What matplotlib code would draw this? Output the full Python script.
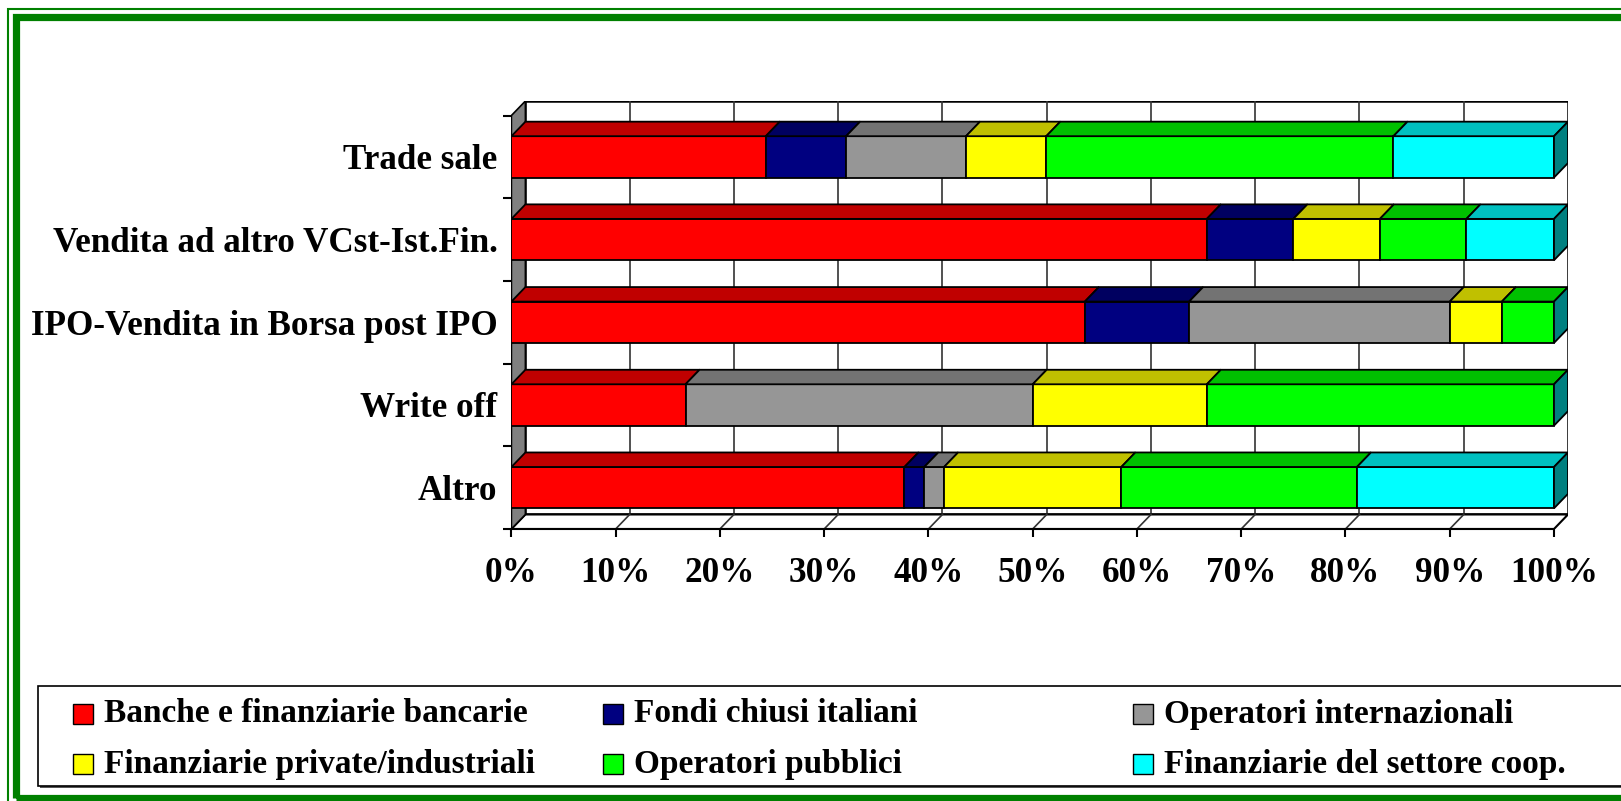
import numpy as np
import matplotlib
matplotlib.use("Agg")
import matplotlib.pyplot as plt
from matplotlib.patches import Rectangle, Polygon

plt.rcParams['font.family'] = ['Liberation Serif', 'DejaVu Serif']
plt.rcParams['font.weight'] = 'bold'

# categories, bottom to top
categories = ['Altro', 'Write off', 'IPO-Vendita in Borsa post IPO',
              'Vendita ad altro VCst-Ist.Fin.', 'Trade sale']
series = ['Banche e finanziarie bancarie', 'Fondi chiusi italiani',
          'Operatori internazionali', 'Finanziarie private/industriali',
          'Operatori pubblici', 'Finanziarie del settore coop.']

# percentage shares (rows follow categories)
banche = [37.7, 16.7, 55.0, 66.7, 24.4]
fondi = [1.9, 0.0, 10.0, 8.3, 7.7]
internaz = [1.9, 33.3, 25.0, 0.0, 11.5]
private = [17.0, 16.7, 5.0, 8.3, 7.7]
pubblici = [22.6, 33.3, 5.0, 8.3, 33.3]
coop = [18.9, 0.0, 0.0, 8.4, 15.4]
xtick_labels = ['0%', '10%', '20%', '30%', '40%', '50%', '60%', '70%', '80%', '90%', '100%']

values = np.array([banche, fondi, internaz, private, pubblici, coop])
front_cols = ['#FF0000', '#000080', '#969696', '#FFFF00', '#00FF00', '#00FFFF']
top_cols = ['#C00000', '#000060', '#737373', '#C0C000', '#00C000', '#00C0C0']
side_col = '#008080'

W, H = 1621, 801
fig = plt.figure(figsize=(W / 100, H / 100), dpi=100)

def fx(px):
    return px / W

def fy(py):
    return 1 - py / H

# plot area in pixels: front 0% at 511, back top 101, front floor 529
ax = fig.add_axes([fx(511.4), fy(529), fx(1568) - fx(511.4), fy(101) - fy(529)])
DX = 14 / 10.42     # depth in % units
DY = 14.5 / 82.6    # depth in category units
ax.set_xlim(0, 100 + DX)
ax.set_ylim(-0.5, 4.5 + DY)
for s in ax.spines.values():
    s.set_visible(False)
ax.patch.set_alpha(0)

y0, y1 = -0.5, 4.5
# back wall
ax.add_patch(Rectangle((DX, y0 + DY), 100, y1 - y0, facecolor='white',
                       edgecolor='black', lw=1.8, zorder=1))
for t in range(10, 100, 10):
    ax.plot([t + DX, t + DX], [y0 + DY, y1 + DY], color='#333333', lw=1.2, zorder=1.5)
# floor
ax.add_patch(Polygon([(0, y0), (100, y0), (100 + DX, y0 + DY), (DX, y0 + DY)],
                     closed=True, facecolor='white', edgecolor='black', lw=1.5, zorder=2))
for t in range(10, 100, 10):
    ax.plot([t, t + DX], [y0, y0 + DY], color='#333333', lw=1.2, zorder=2.5)
# left side wall
ax.add_patch(Polygon([(0, y0), (DX, y0 + DY), (DX, y1 + DY), (0, y1)],
                     closed=True, facecolor='#808080', edgecolor='black', lw=1.2, zorder=2))

bh = 0.5
for i in range(len(categories)):
    left = 0
    for j in range(len(series)):
        v = values[j, i]
        if v <= 0:
            continue
        ax.add_patch(Rectangle((left, i - bh / 2), v, bh, facecolor=front_cols[j],
                               edgecolor='black', lw=1.3, zorder=3))
        ax.add_patch(Polygon([(left, i + bh / 2), (left + v, i + bh / 2),
                              (left + v + DX, i + bh / 2 + DY), (left + DX, i + bh / 2 + DY)],
                             closed=True, facecolor=top_cols[j], edgecolor='black', lw=1.3, zorder=3))
        left += v
    ax.add_patch(Polygon([(left, i - bh / 2), (left + DX, i - bh / 2 + DY),
                          (left + DX, i + bh / 2 + DY), (left, i + bh / 2)],
                         closed=True, facecolor=side_col, edgecolor='black', lw=1.3, zorder=3))

# axes ticks and labels
ax.set_xticks(range(0, 101, 10))
ax.set_xticklabels(xtick_labels)
ax.tick_params(axis='x', length=6, width=1.5, pad=14, labelsize=25.3)
ax.spines['bottom'].set_visible(True)
ax.spines['bottom'].set_bounds(0, 100)
ax.spines['bottom'].set_linewidth(1.5)

ax.set_yticks(range(len(categories)))
ax.set_yticklabels(categories)
ax.set_yticks(np.arange(-0.5, 4.6, 1), minor=True)
ax.tick_params(axis='y', which='major', length=0, pad=10, labelsize=25.3)
ax.tick_params(axis='y', which='minor', length=6, width=1.5)

# legend drawn by hand
fig.patches.append(Rectangle((fx(40), fy(788)), fx(1700) - fx(40), fy(686) - fy(788),
                             transform=fig.transFigure, facecolor='#555555', edgecolor='none'))
fig.patches.append(Rectangle((fx(38), fy(786)), fx(1700) - fx(38), fy(686) - fy(786),
                             transform=fig.transFigure, facecolor='white', edgecolor='black', lw=1.2))
col_x = [73, 603, 1133]
row_y = [714, 764]
for k, name in enumerate(series):
    r, c = k // 3, k % 3
    sx, sy = col_x[c], row_y[r]
    fig.patches.append(Rectangle((fx(sx), fy(sy + 10)), fx(20), 20 / H,
                                 transform=fig.transFigure, facecolor=front_cols[k],
                                 edgecolor='black', lw=1.0))
    fig.text(fx(sx + 31), fy(sy), name, fontsize=24, fontweight='bold',
             va='center', ha='left')

# green double frame
fig.patches.append(Rectangle((fx(7.5), fy(810)), fx(1640) - fx(7.5), fy(9) - fy(810),
                             transform=fig.transFigure, facecolor='none',
                             edgecolor='#008000', lw=1.5))
fig.patches.append(Rectangle((fx(15.5), fy(797.5)), fx(1630) - fx(15.5), fy(17) - fy(797.5),
                             transform=fig.transFigure, facecolor='none',
                             edgecolor='#008000', lw=5.2))

fig.savefig('out.png', dpi=100)
